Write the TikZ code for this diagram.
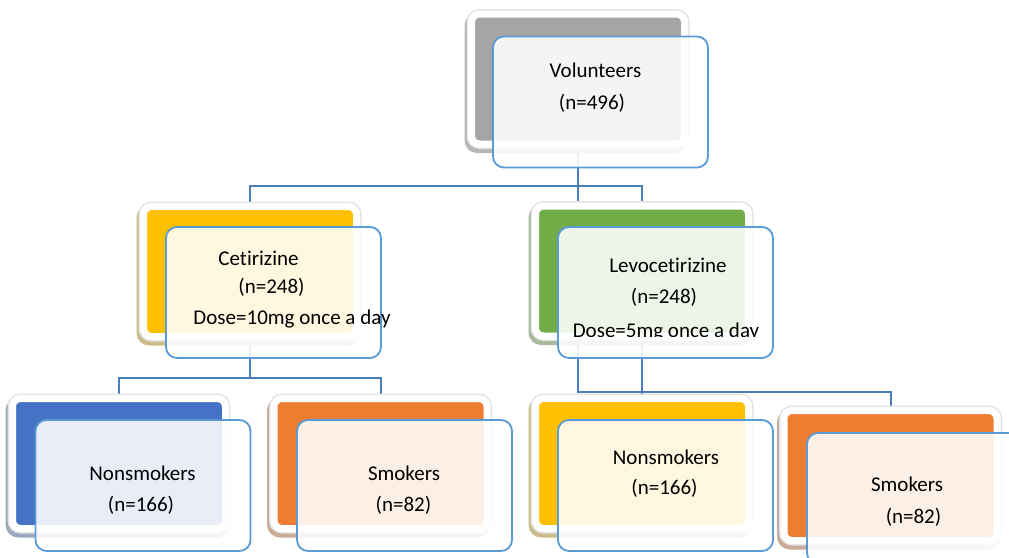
\documentclass[tikz,border=0pt]{standalone}
\usepackage{fontspec}
\setmainfont{Carlito}[Ligatures=NoCommon]
\usepackage{tikz}
\usetikzlibrary{positioning,backgrounds}
\definecolor{boxblue}{HTML}{5B9BD5}
\definecolor{linkblue}{HTML}{4A7EBB}
\definecolor{accgray}{HTML}{A5A5A5}
\definecolor{accyellow}{HTML}{FFC000}
\definecolor{accgreen}{HTML}{70AD47}
\definecolor{accblue}{HTML}{4472C4}
\definecolor{accorange}{HTML}{ED7D31}
\tikzset{
  backbox/.style={rounded corners=8pt, minimum width=213pt, minimum height=130pt, inner sep=0pt,
    fill=#1, draw=white, line width=7pt,
    preaction={draw=#1!40!gray!65!white, line width=10pt, transform canvas={shift={(-2pt,-4pt)}}},
    preaction={draw=gray!22, line width=10pt}},
  frontbox/.style={draw=boxblue, line width=1.8pt, rounded corners=11pt, fill=white, fill opacity=0.88,
    text opacity=1, minimum width=215pt, minimum height=131pt, inner sep=0pt},
  link/.style={draw=linkblue, line width=2pt},
  txt/.style={font=\fontsize{21}{25}\selectfont, anchor=base, inner sep=0pt}
}
\begin{document}
\begin{tikzpicture}[x=1pt, y=-1pt]
  \useasboundingbox (0,0) rectangle (1009,557);
  \coordinate (bar1) at (0,186);
  \coordinate (bar2) at (0,378);
  \coordinate (bar3) at (0,392);
  % coloured boxes behind
  \node[backbox=accgray] (volback) at (578,79) {};
  \node[backbox=accyellow] (cetback) at (250,271.5) {};
  \node[backbox=accgreen] (levoback) at (642,271) {};
  \node[backbox=accblue] (lnonback) at (119,463.5) {};
  \node[backbox=accorange] (lsmback) at (380.5,463.5) {};
  \node[backbox=accyellow] (rnonback) at (642,463.5) {};
  \node[backbox=accorange] (rsmback) at (890.5,475.5) {};
  % links
  \begin{scope}[on background layer]
    \draw[link] (volback.center) |- (rsmback.center |- bar3) -- (rsmback.center);
    \draw[link] (cetback.center) |- (levoback.center |- bar1) -- (rnonback.center);
    \draw[link] (cetback.center) -- (cetback.center |- bar2);
    \draw[link] (lnonback.center) |- (lsmback.center |- bar2) -- (lsmback.center);
  \end{scope}
  % text boxes in front
  \node[frontbox] (volfront) at (600.5,102) {};
  \node[frontbox] (cetfront) at (273.5,292.5) {};
  \node[frontbox] (levofront) at (665.5,292.5) {};
  \node[frontbox] (lnonfront) at (143,485.5) {};
  \node[frontbox] (lsmfront) at (404.5,485.5) {};
  \node[frontbox] (rnonfront) at (665.5,485.5) {};
  \node[frontbox] (rsmfront) at (914.5,498.5) {};
  % labels
  \node[txt] (vol1) at (595.5,77) {Volunteers};
  \node[txt] (vol2) at (592,109) {(n=496)};
  \node[txt] (cet1) at (258.5,265) {Cetirizine};
  \node[txt] (cet2) at (271.5,293) {(n=248)};
  \node[txt] (cet3) at (292,324) {Dose=10mg once a day};
  \node[txt] (levo1) at (668,272) {Levocetirizine};
  \node[txt] (levo2) at (664,303) {(n=248)};
  \begin{scope}
    \clip (560,310) rectangle (780,336.5);
    \node[txt] (levo3) at (666,337) {Dose=5mg once a day};
  \end{scope}
  \node[txt] (lnon1) at (142.5,480) {Nonsmokers};
  \node[txt] (lnon2) at (141,511) {(n=166)};
  \node[txt] (lsm1) at (404,480) {Smokers};
  \node[txt] (lsm2) at (403.5,511) {(n=82)};
  \node[txt] (rnon1) at (666,464) {Nonsmokers};
  \node[txt] (rnon2) at (664.5,494) {(n=166)};
  \node[txt] (rsm1) at (907,491) {Smokers};
  \node[txt] (rsm2) at (913.5,523) {(n=82)};
\end{tikzpicture}
\end{document}
